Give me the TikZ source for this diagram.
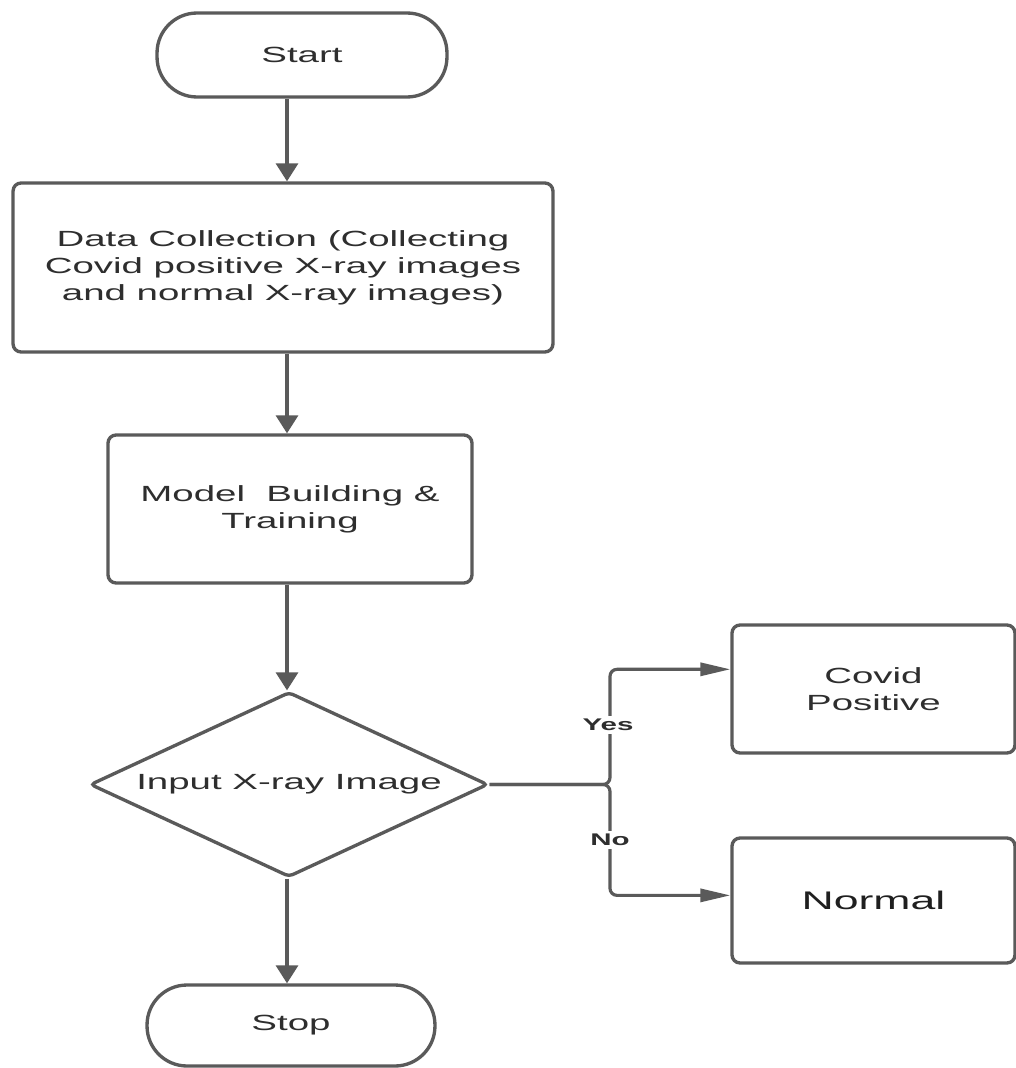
\documentclass[tikz,border=0pt]{standalone}
\usepackage{fontspec}
\setmainfont{Liberation Sans}[FakeStretch=1.75]
\usetikzlibrary{arrows.meta,shapes.geometric,calc}
\definecolor{ln}{HTML}{5A5A5A}
\definecolor{tx}{HTML}{2E2E2E}
\begin{document}
\begin{tikzpicture}[x=0.02cm,y=-0.02cm,
  box/.style={draw=ln, line width=1.9pt, rounded corners=0.16cm, align=center,
    text=tx, font=\fontsize{12.5}{15.3}\selectfont, inner sep=0pt},
  term/.style={box, rounded corners=0.8cm},
  dec/.style={draw=ln, line width=1.9pt, diamond, aspect=2.15, inner sep=0pt,
    rounded corners=0.08cm, text=tx, font=\fontsize{12.5}{15.3}\selectfont},
  conn/.style={draw=ln, line width=1.8pt},
  varrow/.style={conn, -{Triangle[length=0.36cm,width=0.44cm]}},
  harrow/.style={conn, -{Triangle[length=0.6cm,width=0.26cm]}, rounded corners=0.14cm},
  lab/.style={fill=white, font=\bfseries\fontsize{9.6}{11}\selectfont, text=tx, inner sep=1.5pt}]
\useasboundingbox[fill=white] (0,0) rectangle (1016,1068);

\node[term, minimum width=5.8cm, minimum height=1.68cm] (start) at (302,55) {Start};
\node[box, minimum width=10.8cm, minimum height=3.38cm] (data) at (283,267.5)
  {Data Collection (Collecting\\Covid positive X-ray images\\and normal X-ray images)};
\node[box, minimum width=7.28cm, minimum height=2.96cm] (model) at (290,509)
  {Model\ \ Building \&\\Training};
\node[dec, minimum width=7.96cm, minimum height=3.7cm] (input) at (289,784.5) {Input X-ray Image};
\node[term, minimum width=5.76cm, minimum height=1.62cm] (stop) at (291,1025.5) {Stop};
\node[box, minimum width=5.66cm, minimum height=2.56cm] (covid) at (873.5,689) {Covid\\Positive};
\node[box, minimum width=5.66cm, minimum height=2.5cm, text=black!88,
  font=\fontsize{14.5}{17}\selectfont] (normal) at (873.5,900.5) {Normal};

\coordinate (cx) at (287,0);
\draw[varrow] (start.south -| cx) -- (data.north -| cx);
\draw[varrow] (data.south -| cx) -- (model.north -| cx);
\draw[varrow] (model.south -| cx) -- (input.north -| cx);
\draw[varrow] (input.south -| cx) -- (stop.north -| cx);

\coordinate (j) at (610,784.5);
\coordinate (cin) at ($(covid.north west)!0.35!(covid.south west)$);
\coordinate (nin) at ($(normal.north west)!0.46!(normal.south west)$);
\draw[harrow] (input.east) -- (j) |- (cin);
\draw[harrow] (input.east) -- (j) |- (nin);

\node[lab] (yes) at (608,725) {Yes};
\node[lab] (no) at (610,840) {No};
\end{tikzpicture}
\end{document}
